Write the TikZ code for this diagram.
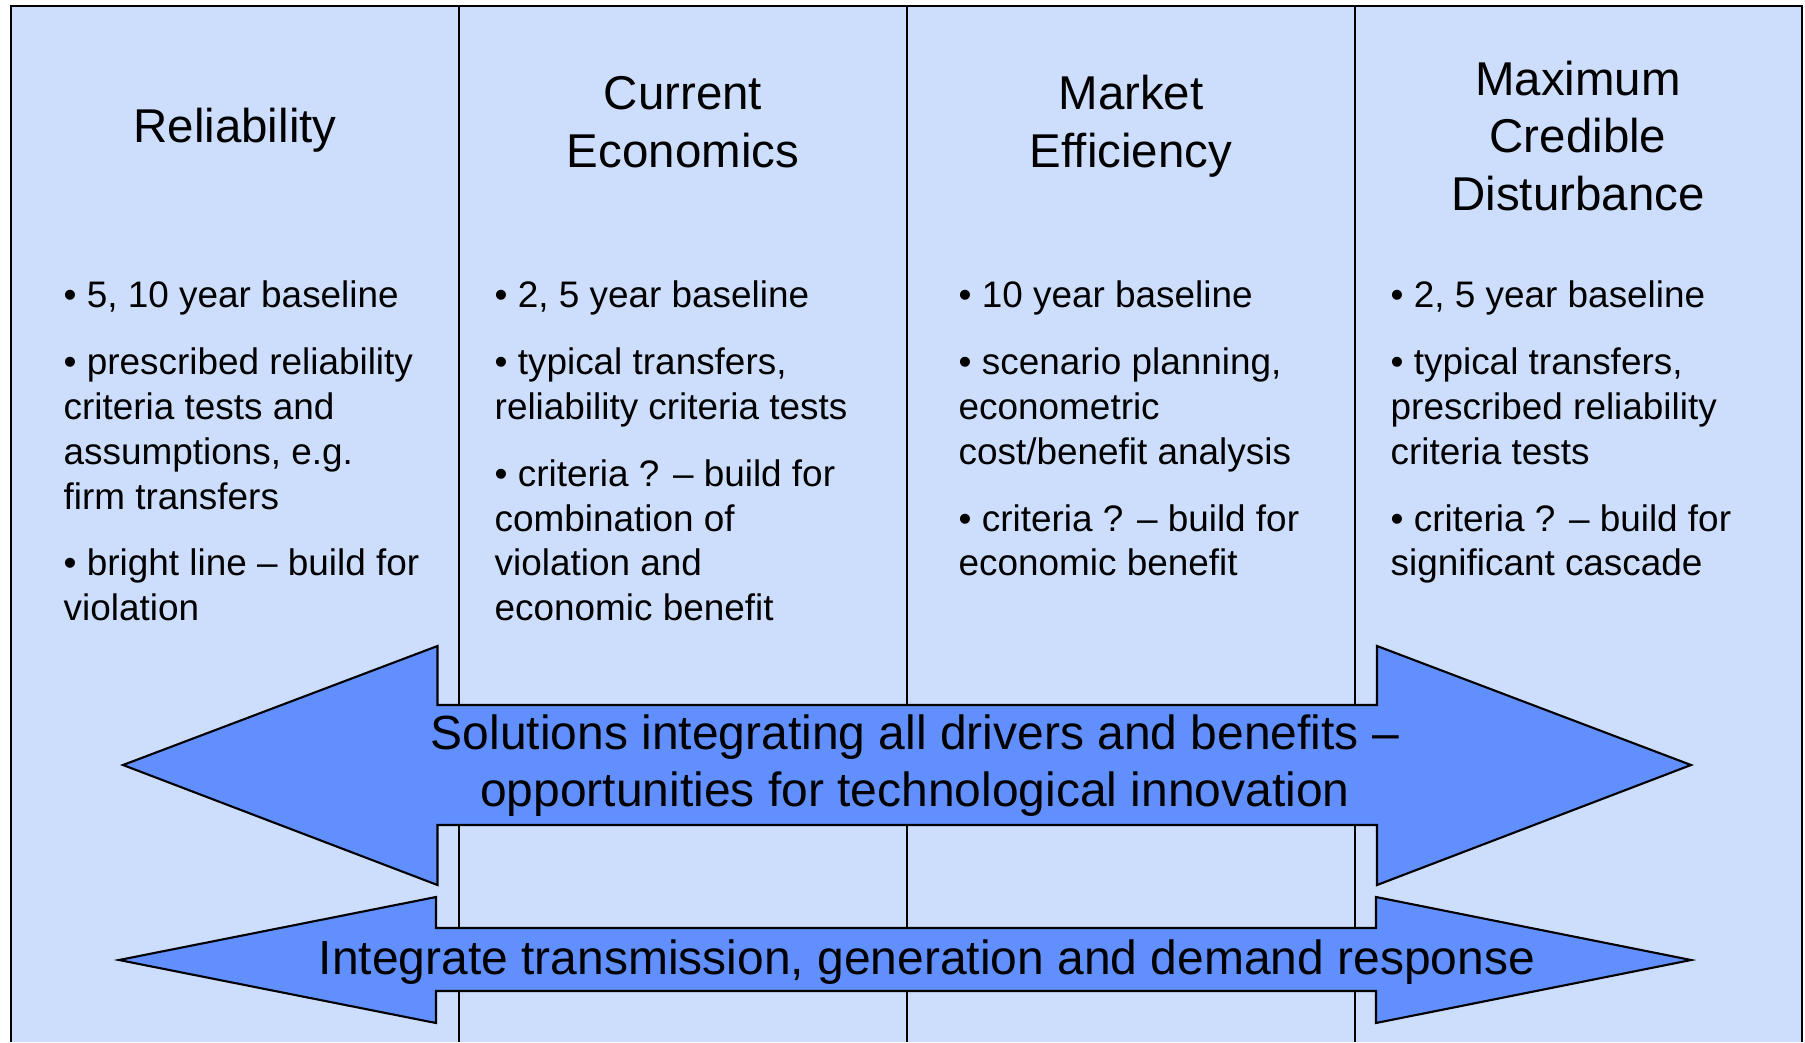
\documentclass[tikz,border=0pt]{standalone}
\usepackage{fontspec}
\setmainfont{Liberation Sans}
\definecolor{panelblue}{RGB}{205,221,252}
\definecolor{arrowblue}{RGB}{97,144,254}
\tikzstyle{head} = [font=\fontsize{13.5}{16.4}\selectfont, align=center, inner sep=0pt]
\tikzstyle{bandtext} = [font=\fontsize{13.65}{16.4}\selectfont, align=center, inner sep=0pt]
\tikzstyle{body} = [font=\fontsize{10.5}{12.77}\selectfont, align=left, anchor=north west, inner sep=0pt]
\tikzstyle{band} = [fill=arrowblue, draw=black, line width=0.6pt, line join=miter]

\begin{document}
\begin{tikzpicture}
	\useasboundingbox (0,0) rectangle (18.05,-10.42);
	\fill[panelblue] (0.11,-0.06) rectangle (18.02,-10.42);
	\draw[line width=0.6pt] (0.11,-10.42) -- (0.11,-0.06) -- (18.02,-0.06) -- (18.02,-10.42);
	\foreach \x in {4.59,9.07,13.55}
		\draw[line width=0.45pt] (\x,-0.06) -- (\x,-10.42);

	\node[head] (rel) at (2.35,-1.30) {Reliability};
	\node[head] (econ) at (6.83,-1.22) {Current\\Economics};
	\node[head] (mkt) at (11.31,-1.26) {Market\\Efficiency};
	\node[head] (mcd) at (15.78,-1.36) {Maximum\\Credible\\Disturbance};

	\node[body] (relbody) at (0.63,-2.805) {%
		• 5, 10 year baseline\\[6.2pt]
		• prescribed reliability\\
		criteria tests and\\
		assumptions, e.g.\\
		firm transfers\\[6.2pt]
		• bright line – build for\\
		violation};
	\node[body] (econbody) at (4.94,-2.805) {%
		• 2, 5 year baseline\\[6.2pt]
		• typical transfers,\\
		reliability criteria tests\\[6.2pt]
		• criteria ? – build for\\
		combination of\\
		violation and\\
		economic benefit};
	\node[body] (mktbody) at (9.58,-2.805) {%
		• 10 year baseline\\[6.2pt]
		• scenario planning,\\
		econometric\\
		cost/benefit analysis\\[6.2pt]
		• criteria ? – build for\\
		economic benefit};
	\node[body] (mcdbody) at (13.90,-2.805) {%
		• 2, 5 year baseline\\[6.2pt]
		• typical transfers,\\
		prescribed reliability\\
		criteria tests\\[6.2pt]
		• criteria ? – build for\\
		significant cascade};

	\draw[band] (1.23,-7.65) -- (4.375,-6.46) -- (4.375,-7.05) -- (13.77,-7.05) -- (13.77,-6.46)
		-- (16.91,-7.65) -- (13.77,-8.85) -- (13.77,-8.25) -- (4.375,-8.25) -- (4.375,-8.85) -- cycle;
	\draw[band] (1.19,-9.60) -- (4.36,-8.97) -- (4.36,-9.28) -- (13.76,-9.28) -- (13.76,-8.97)
		-- (16.91,-9.60) -- (13.76,-10.23) -- (13.76,-9.91) -- (4.36,-9.91) -- (4.36,-10.23) -- cycle;

	\node[bandtext] (solutions) at (9.15,-7.655) {Solutions integrating all drivers and benefits –\\opportunities for technological innovation};
	\node[bandtext] (integrate) at (9.27,-9.625) {Integrate transmission, generation and demand response};
\end{tikzpicture}
\end{document}
